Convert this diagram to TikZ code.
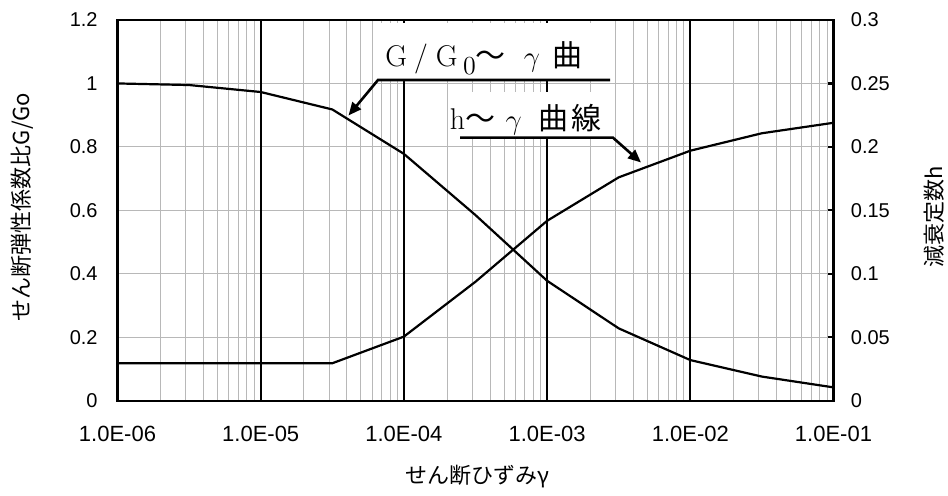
\documentclass[tikz,border=0pt]{standalone}
\usepackage{fontspec}
\newfontfamily\cjk{Noto Sans CJK JP}
\newfontfamily\arial{Liberation Sans}
\usetikzlibrary{arrows.meta}
\begin{document}
\begin{tikzpicture}[x=0.5pt,y=-0.5pt,
  minor/.style={black!28, line width=0.45pt},
  major/.style={black, line width=1.1pt},
  curve/.style={black, line width=1.1pt, line join=round},
  callout/.style={black, line width=1.3pt, line join=miter},
  arr/.style={callout, -{Triangle[length=6.5pt,width=5.5pt]}},
  ylab/.style={font=\arial\fontsize{10}{12}\selectfont, inner sep=0pt},
  xlab/.style={font=\arial\fontsize{11}{13}\selectfont, inner sep=0pt},
  axtitle/.style={font=\cjk\fontsize{11}{13}\selectfont, inner sep=0pt},
  big/.style={font=\fontsize{15}{18}\selectfont, inner sep=0pt}]
\useasboundingbox (0,0) rectangle (948,496);
\fill[white] (0,0) rectangle (948,496);

% grid and major lines
\begin{scope}[shift={(117.5,400.7)}, x=71.6pt, y=158.625pt]
  \foreach \d in {0,...,4} \foreach \k in {2,...,9}
    \draw[minor] ({\d+log10(\k)},0) -- ({\d+log10(\k)},1.2);
  \foreach \v in {0.2,0.4,0.6,0.8,1.0}
    \draw[minor] (0,\v) -- (5,\v);
  \foreach \d in {1,...,4}
    \draw[major] (\d,0) -- (\d,1.2);
\end{scope}

% white boxes behind the callout labels
\fill[white] (374,23) rectangle (611,80);
\fill[white] (448,92) rectangle (614,138);

\begin{scope}[shift={(117.5,400.7)}, x=71.6pt, y=158.625pt]
  \draw[major] (0,0) rectangle (5,1.2);
  \foreach \v in {0.2,0.4,0.6,0.8,1.0}
    \draw[major] ({5-6/143.2},\v) -- (5,\v);
  % G/G0 curve
  \draw[curve] (0,1.0) -- (0.5,0.995) -- (1,0.973) -- (1.5,0.918) -- (2,0.778)
     -- (2.5,0.585) -- (3,0.378) -- (3.5,0.228) -- (4,0.128) -- (4.5,0.076) -- (5,0.042);
  % h curve (right axis x4)
  \draw[curve] (0,0.118) -- (1.5,0.118) -- (2,0.202) -- (2.5,0.375) -- (3,0.567)
     -- (3.5,0.704) -- (4,0.788) -- (4.5,0.843) -- (5,0.876);
\end{scope}

% tick labels
\foreach \v/\t in {0/0,0.2/0.2,0.4/0.4,0.6/0.6,0.8/0.8,1.0/1,1.2/1.2}
  \node[ylab, anchor=east] (yl\t) at (98,{400.7-\v*317.25}) {\t};
\foreach \v/\t in {0/0,0.2/0.05,0.4/0.1,0.6/0.15,0.8/0.2,1.0/0.25,1.2/0.3}
  \node[ylab, anchor=west] (yr\t) at (850.5,{400.7-\v*317.25}) {\t};
\foreach \i/\t in {0/06,1/05,2/04,3/03,4/02,5/01}
  \node[xlab] (xl\i) at ({117.5+143.2*\i},434) {1.0E-\t};

% axis titles
\node[axtitle, rotate=90] (ytitleL) at (22.5,207) {せん断弾性係数比G/Go};
\node[axtitle, rotate=90] (ytitleR) at (934.5,217) {減衰定数h};
\node[axtitle] (xtitle) at (477.5,477) {せん断ひずみγ};

% callout labels
\node[big, anchor=base west] (glab) at (385,67)
  {G\hspace{3.5pt}/\hspace{4pt}G\hspace{2.7pt}\raisebox{-4pt}{\fontsize{13}{13}\selectfont 0}{\cjk\fontsize{15}{18}\selectfont ～}\hspace{9pt}$\gamma$\hspace{6.4pt}{\cjk\fontsize{15}{18}\selectfont 曲}};
\node[big, anchor=base west] (hlab) at (449.5,130)
  {h{\cjk\fontsize{15}{18}\selectfont ～}\hspace{5.2pt}$\gamma$\hspace{8.2pt}{\cjk\fontsize{15}{18}\selectfont 曲\hspace{1.5pt}線}};

\coordinate (gEnd) at (610,80);
\coordinate (gBend) at (378,80);
\coordinate (gTip) at (348.5,115.5);
\coordinate (hStart) at (460,137.7);
\coordinate (hBend) at (613,137.7);
\coordinate (hTip) at (641,162.5);
\draw[arr] (gEnd) -- (gBend) -- (gTip);
\draw[arr] (hStart) -- (hBend) -- (hTip);
\end{tikzpicture}
\end{document}
